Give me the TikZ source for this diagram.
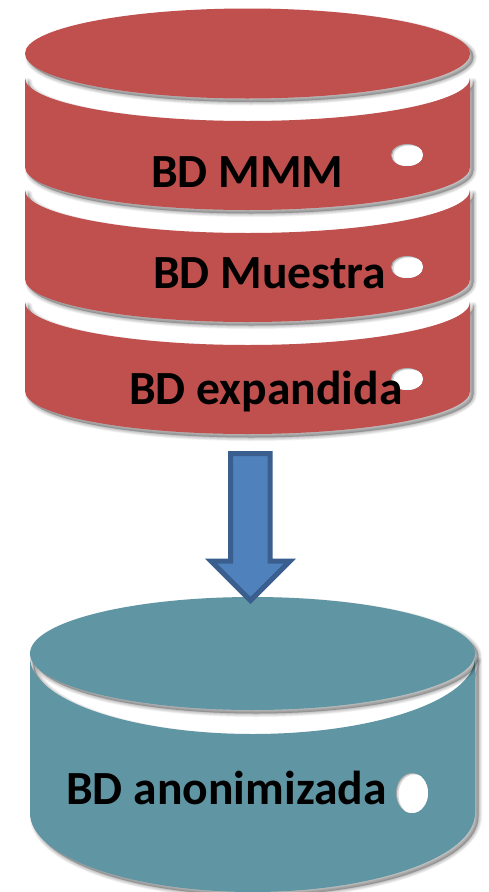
\documentclass[tikz,border=0pt]{standalone}
\usepackage{fontspec}
\setmainfont{Carlito}
\definecolor{dbred}{HTML}{C0504D}
\definecolor{dbteal}{HTML}{6096A4}
\definecolor{arrowfill}{HTML}{4F81BD}
\definecolor{arrowline}{HTML}{3A5F8F}
\tikzset{
  dblabel/.style={anchor=base west,inner sep=0pt,font=\fontsize{47.6}{48}\selectfont\bfseries,text=black},
  blockarrow/.style={fill=arrowfill,draw=arrowline,line width=5pt,miter limit=10},
}
% soft shadow of any path, lower right
\newcommand{\softshadow}[1]{%
  \begin{scope}[shift={(3.5,3.5)}]
    \foreach \w in {7,5.5,4,2.5,1}{
      \path[draw=black,draw opacity=.05,line width=\w pt,line join=round] #1;
    }
    \path[fill=black,fill opacity=.25] #1;
  \end{scope}}
% band: x1,x2,ytop,arc depth,ybottom,bottom arc depth
\newcommand{\bandpath}[6]{(#1,#3) arc[start angle=180,end angle=0,x radius={(#2-#1)/2},y radius=#4] -- (#2,#5) arc[start angle=0,end angle=180,x radius={(#2-#1)/2},y radius=#6] -- cycle}
\newcommand{\hole}[4]{%
  \begin{scope}
    \clip (#1,#2) ellipse[x radius=#3,y radius=#4];
    \fill[black!35] (#1,#2) ellipse[x radius=#3,y radius=#4];
    \fill[black!15] (#1+1,#2+.7) ellipse[x radius=#3,y radius=#4];
    \fill[white] (#1+2.5,#2+1.5) ellipse[x radius=#3,y radius=#4];
  \end{scope}}
\begin{document}
\begin{tikzpicture}[x=1pt,y=-1pt]
\useasboundingbox (0,0) rectangle (488,892);
\fill[white] (0,0) rectangle (488,892);
% red stack, back to front
\softshadow{\bandpath{25}{470}{302}{43}{391}{43}}
\fill[dbred] \bandpath{25}{470}{302}{43}{391}{43};
\softshadow{\bandpath{25}{470}{190}{43}{279}{43}}
\fill[dbred] \bandpath{25}{470}{190}{43}{279}{43};
\softshadow{\bandpath{25}{470}{78}{43}{167}{43}}
\fill[dbred] \bandpath{25}{470}{78}{43}{167}{43};
\softshadow{(247.5,53.5) ellipse[x radius=222.5,y radius=45]}
\fill[dbred] (247.5,53.5) ellipse[x radius=222.5,y radius=45];
\hole{407}{155}{16}{11}
\hole{407}{267}{16}{11}
\hole{407}{379}{16}{11}
% teal cylinder
\softshadow{\bandpath{30}{475}{657}{77}{813}{79}}
\fill[dbteal] \bandpath{30}{475}{657}{77}{813}{79};
\softshadow{(252.5,653.5) ellipse[x radius=222.5,y radius=56.5]}
\fill[dbteal] (252.5,653.5) ellipse[x radius=222.5,y radius=56.5];
\hole{412}{793}{16}{20}
% arrow
\path[blockarrow] (230.5,453.5) -- (270,453.5) -- (270,561) -- (290,561) -- (250.5,600.5) -- (211,561) -- (230.5,561) -- cycle;
% labels
\node[dblabel] (mmm) at (151,187.5) {BD MMM};
\node[dblabel] (muestra) at (153,288) {BD Muestra};
\node[dblabel] (expandida) at (129,404) {BD expandida};
\node[dblabel] (anon) at (66,804) {BD anonimizada};
\end{tikzpicture}
\end{document}
